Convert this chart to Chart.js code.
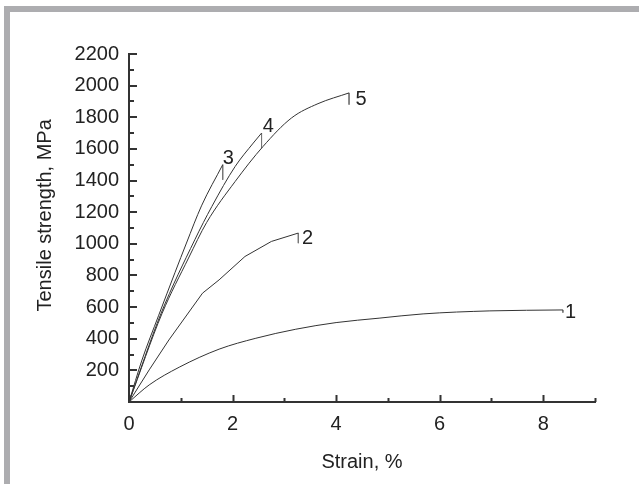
<!DOCTYPE html>
<html>
<head>
<meta charset="utf-8">
<script src="https://cdn.jsdelivr.net/npm/chart.js@4/dist/chart.umd.min.js"></script>
<style>
  html, body { margin: 0; padding: 0; background: #fff; }
  #wrap { position: relative; width: 639px; height: 484px; overflow: hidden; }
  #frame {
    position: absolute; left: 4px; top: 6px; right: -10px; bottom: -10px;
    border-top: 6px solid #adadb0; border-left: 6px solid #adadb0;
  }
  #grafico { position: absolute; left: 0; top: 0; }
</style>
</head>
<body>
<div id="wrap">
  <div id="frame"></div>
  <canvas id="grafico" width="639" height="484"></canvas>
</div>
<script>
// Curvas tensão x deformação (1..5)
const strain1 = [0, 0.39, 0.97, 1.74, 2.45, 3.22, 4.0, 4.83, 5.68, 6.97, 8.38];
const stress1 = [0, 108, 220, 334, 403, 460, 502, 530, 557, 576, 582];

const strain2 = [0, 0.39, 0.77, 1.42, 1.74, 2.24, 2.75, 3.27];
const stress2 = [0, 203, 392, 688, 772, 920, 1015, 1068];

const strain3 = [0, 0.25, 0.57, 0.89, 1.11, 1.40, 1.81];
const stress3 = [0, 265, 545, 820, 1005, 1240, 1500];

const strain4 = [0, 0.62, 1.27, 1.6, 2.05, 2.4, 2.56];
const stress4 = [0, 561, 1025, 1236, 1489, 1637, 1700];

const strain5 = [0, 0.64, 1.15, 1.5, 2.05, 2.59, 3.14, 3.65, 4.25];
const stress5 = [0, 561, 910, 1135, 1394, 1616, 1796, 1886, 1954];

// Queda vertical no ponto de ruptura de cada curva
const breakStrain = [8.38, 3.27, 1.81, 2.56, 4.25];
const breakTop = [582, 1068, 1500, 1700, 1954];
const breakBottom = [565, 1004, 1405, 1605, 1880];

// Rótulos das curvas (posição em unidades dos eixos)
const curveNames = ['1', '2', '3', '4', '5'];
const labelStrain = [8.53, 3.45, 1.92, 2.69, 4.48];
const labelStress = [563, 1032, 1538, 1744, 1911];

const yTitle = 'Tensile strength, MPa';

const corLinha = '#333333';
const corQueda = '#777777';
const corTexto = '#222222';
const fonte = 'Liberation Sans, Arial, sans-serif';

function pontos(xs, ys) {
    return xs.map((x, i) => ({ x: x, y: ys[i] }));
}

const curvas = [
    [strain1, stress1], [strain2, stress2], [strain3, stress3],
    [strain4, stress4], [strain5, stress5]
];

const datasetsCurvas = curvas.map(([xs, ys], i) => ({
    data: pontos(xs, ys),
    borderColor: corLinha,
    borderWidth: 1,
    pointRadius: 0,
    tension: i === 1 ? 0 : 0.4,
    cubicInterpolationMode: i === 1 ? 'default' : 'monotone',
    fill: false
}));

const datasetsQueda = breakStrain.map((x, i) => ({
    data: [{ x: x, y: breakTop[i] }, { x: x, y: breakBottom[i] }],
    borderColor: corQueda,
    borderWidth: 1,
    pointRadius: 0,
    tension: 0,
    fill: false
}));

// Marcas de escala para dentro (maiores e menores), números das curvas e título do eixo y
const marcasPlugin = {
    id: 'marcas',
    afterDraw(chart) {
        const ctx = chart.ctx;
        const area = chart.chartArea;
        const sx = chart.scales.x;
        const sy = chart.scales.y;
        ctx.save();
        ctx.strokeStyle = corLinha;
        ctx.lineWidth = 2;
        ctx.beginPath();
        sx.ticks.forEach(t => {
            const px = Math.round(sx.getPixelForValue(t.value)) + 0.5;
            const len = t.value % 2 === 0 ? 7 : 4;
            ctx.moveTo(px, area.bottom);
            ctx.lineTo(px, area.bottom - len);
        });
        sy.ticks.forEach(t => {
            const py = Math.round(sy.getPixelForValue(t.value));
            const len = t.value % 200 === 0 ? 8 : 5;
            ctx.moveTo(area.left, py);
            ctx.lineTo(area.left + len, py);
        });
        ctx.stroke();

        ctx.fillStyle = corTexto;
        ctx.font = '20px ' + fonte;
        ctx.textAlign = 'center';
        ctx.textBaseline = 'middle';
        curveNames.forEach((nome, i) => {
            ctx.fillText(nome, sx.getPixelForValue(labelStrain[i]), sy.getPixelForValue(labelStress[i]));
        });

        // título do eixo y, um pouco acima do centro como no original
        ctx.translate(45, sy.getPixelForValue(1180));
        ctx.rotate(-Math.PI / 2);
        ctx.fillText(yTitle, 0, 0);
        ctx.restore();
    }
};

const config = {
    type: 'line',
    data: { datasets: datasetsCurvas.concat(datasetsQueda) },
    options: {
        responsive: false,
        animation: false,
        events: [],
        layout: { padding: { top: 54, right: 44, left: 0, bottom: 0 } },
        plugins: {
            legend: { display: false },
            tooltip: { enabled: false }
        },
        scales: {
            x: {
                type: 'linear',
                min: 0,
                max: 9,
                grid: { display: false, drawTicks: false },
                border: { display: true, color: corLinha, width: 2 },
                ticks: {
                    stepSize: 1,
                    autoSkip: false,
                    maxRotation: 0,
                    padding: 10,
                    color: corTexto,
                    font: { family: fonte, size: 20 },
                    callback: v => (v % 2 === 0 ? String(v) : '')
                },
                title: {
                    display: true,
                    text: 'Strain, %',
                    color: corTexto,
                    font: { family: fonte, size: 20 },
                    padding: { top: 4, bottom: 10 }
                },
                afterFit(scale) { scale.height = 82; }
            },
            y: {
                type: 'linear',
                min: 0,
                max: 2200,
                grid: { display: false, drawTicks: false },
                border: { display: true, color: corLinha, width: 2 },
                ticks: {
                    stepSize: 100,
                    autoSkip: false,
                    padding: 10,
                    color: corTexto,
                    font: { family: fonte, size: 20 },
                    callback: v => (v % 200 === 0 && v !== 0 ? String(v) : '')
                },
                afterFit(scale) { scale.width = 129; }
            }
        }
    },
    plugins: [marcasPlugin]
};

new Chart(document.getElementById('grafico').getContext('2d'), config);
</script>
</body>
</html>
